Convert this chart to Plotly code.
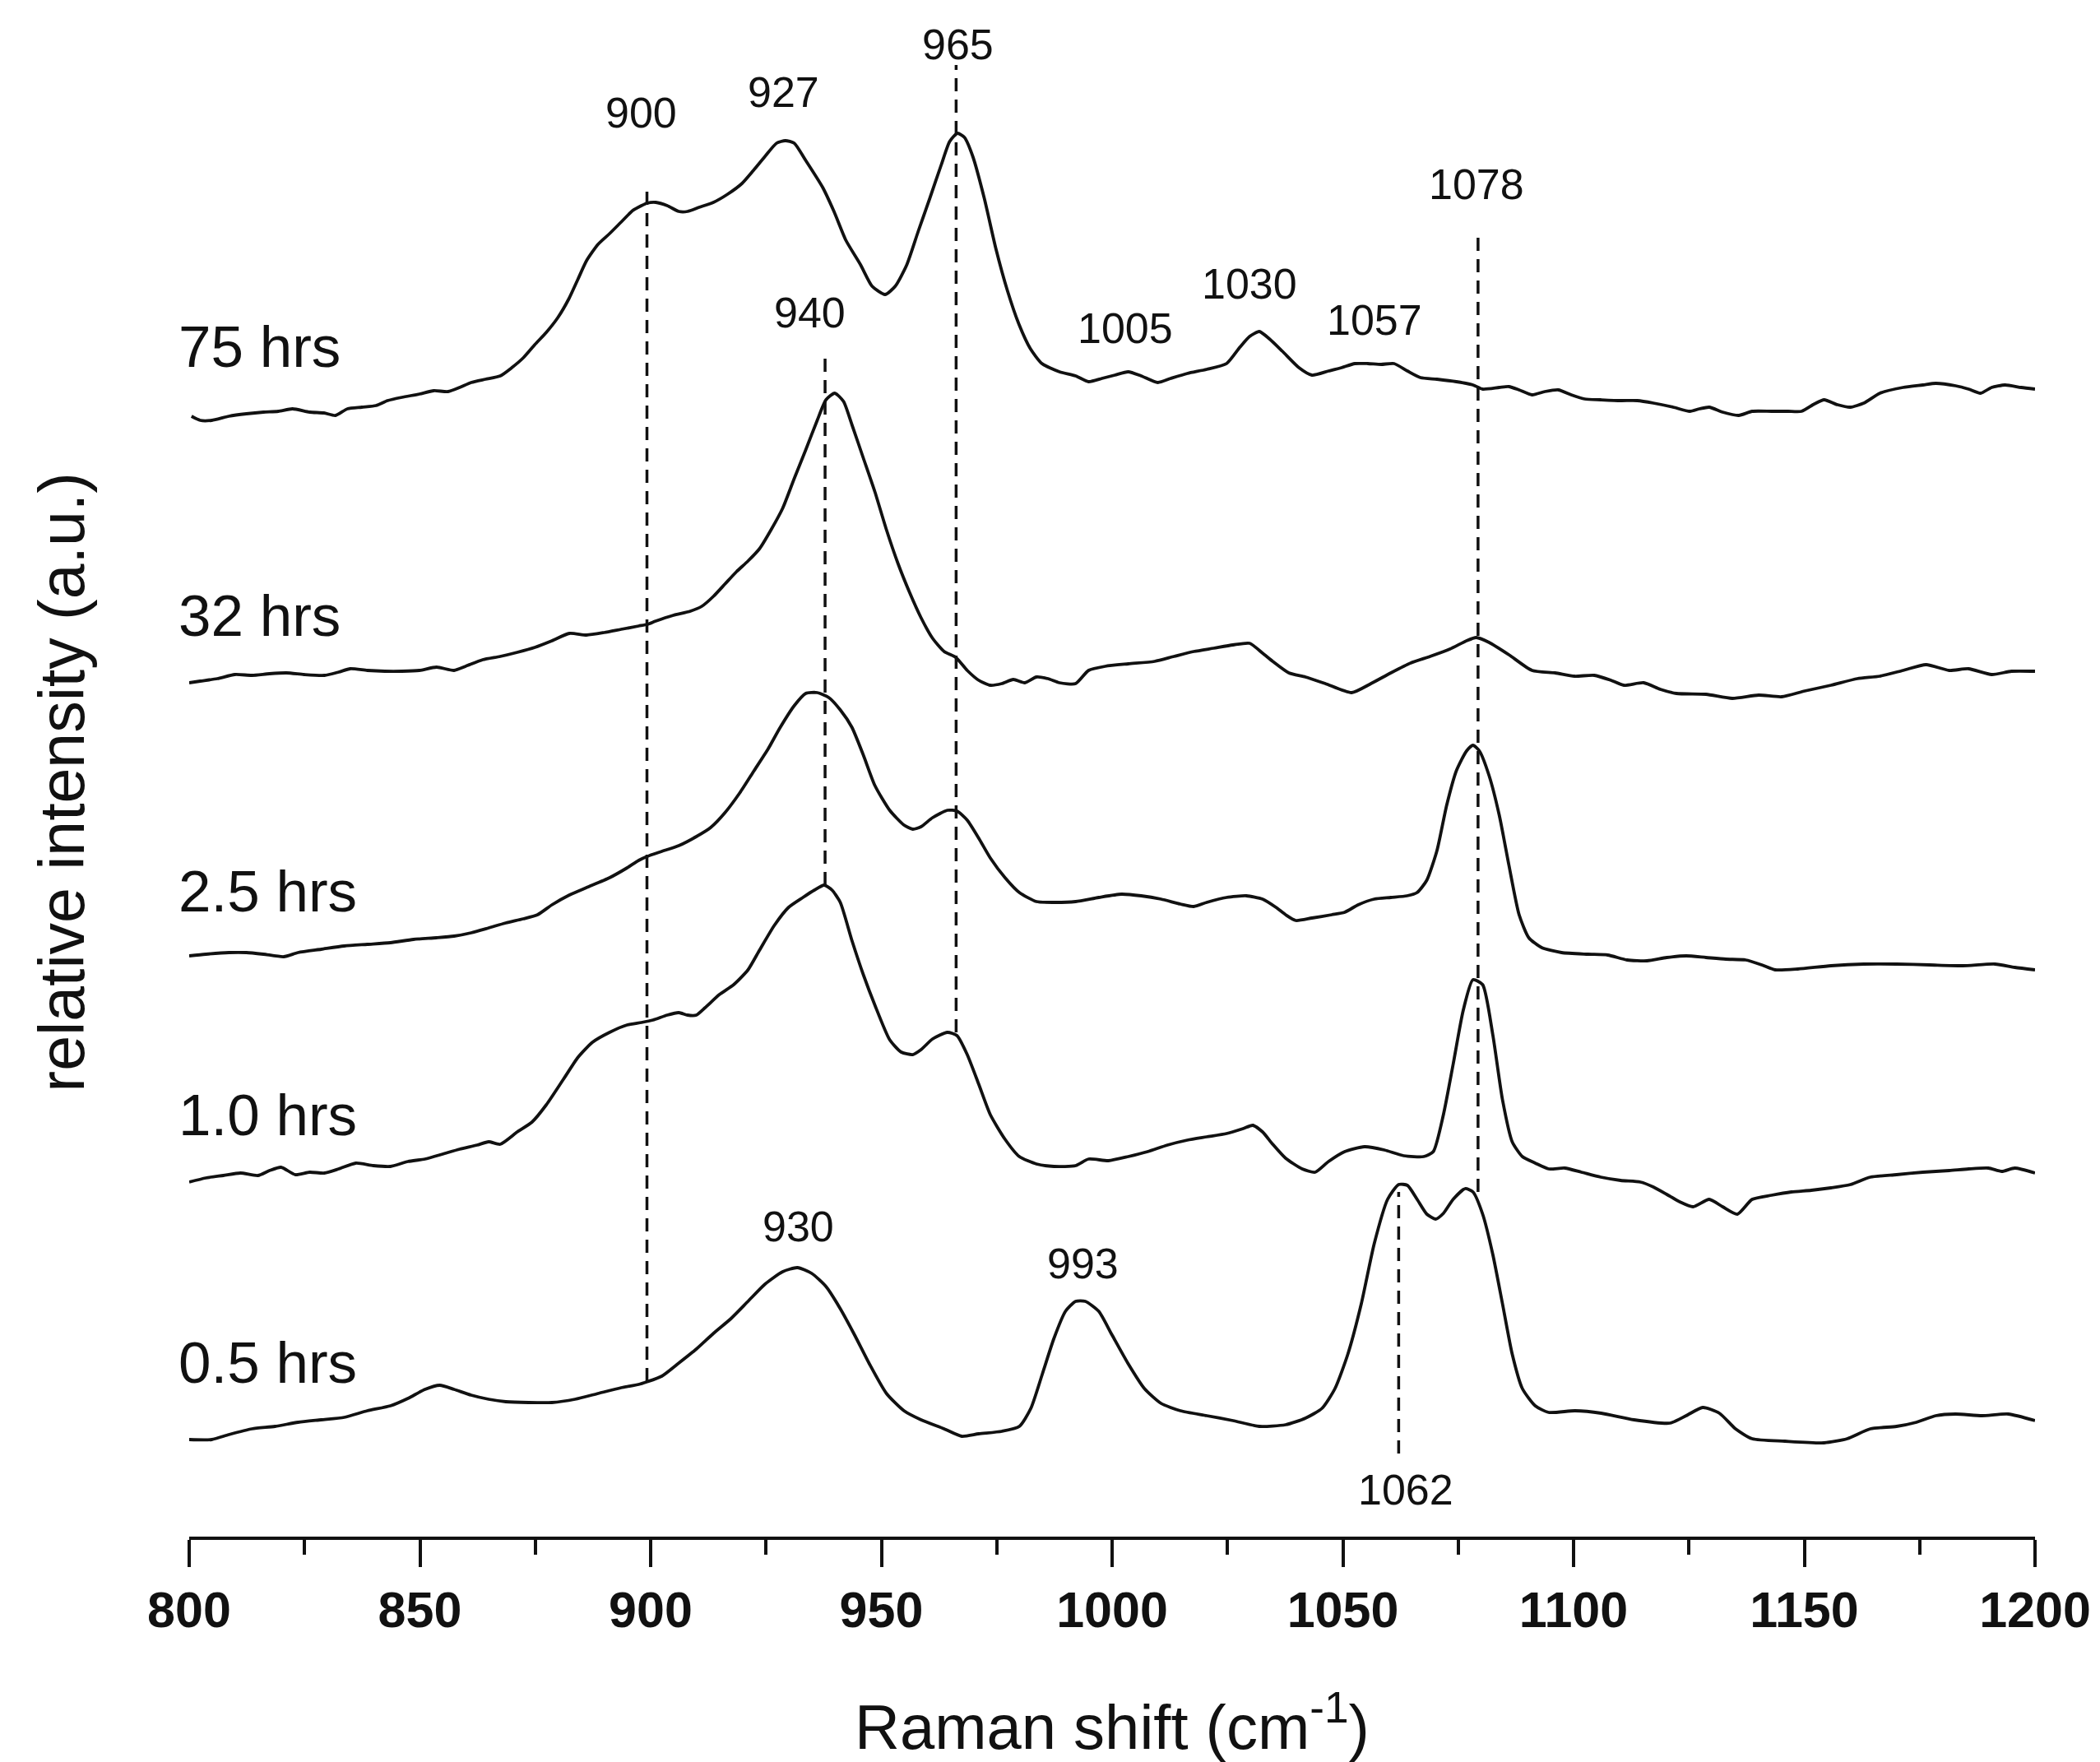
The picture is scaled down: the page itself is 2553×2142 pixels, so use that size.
"""Raman spectra of the five reaction times, stacked with offsets."""

import plotly.graph_objects as go

# ---- spectra (Raman shift in cm-1, stacked relative intensity in a.u.) ----
wn_75 = [800.5, 802.4, 804.9, 808.6, 812.4, 816.1, 819.3, 822.4, 826.1, 829.2,
         831.7, 834.3, 837.4, 840.5, 843.0, 846.1, 849.9, 853.0, 856.1, 858.6,
         861.1, 864.2, 867.4, 869.9, 872.4, 874.9, 877.4, 879.9, 882.3, 884.2,
         886.1, 888.6, 891.1, 893.6, 896.1, 898.0, 899.2, 901.1, 903.6, 906.1,
         908.0, 910.5, 913.6, 916.7, 919.8, 922.3, 924.8, 927.3, 929.2, 931.1,
         933.6, 937.3, 939.8, 942.3, 945.5, 948.0, 950.8, 953.0, 955.5, 958.0,
         960.5, 963.0, 964.8, 966.5, 968.0, 969.8, 972.3, 974.8, 977.3, 979.8,
         982.3, 984.8, 988.6, 992.1,
         994.9, 997.8, 1000.6, 1003.5, 1006.3, 1009.9, 1012.7, 1016.3, 1020.5, 1024.8,
         1027.7, 1029.8, 1031.9, 1034.1, 1036.9, 1040.5, 1043.3, 1046.9, 1049.7, 1052.6,
         1055.4, 1058.3, 1061.1, 1064.0, 1066.8, 1070.4, 1074.6, 1078.2, 1080.3, 1083.9,
         1086.0, 1088.2, 1091.0, 1093.8, 1096.7, 1099.5, 1102.4, 1105.9, 1110.2, 1113.8,
         1117.3, 1121.6, 1125.2, 1127.3, 1129.4, 1132.3, 1135.8, 1138.7, 1142.9, 1146.5,
         1149.4, 1152.2, 1154.3, 1157.2, 1160.0, 1162.9, 1166.4, 1171.4, 1175.7, 1178.5,
         1182.8, 1185.6, 1188.2, 1190.6, 1193.5, 1197.0, 1200.0]
int_75 = [136.2, 135.7, 135.7, 136.2, 136.5, 136.7, 136.8, 137.1, 136.7, 136.6,
          136.3, 137.1, 137.3, 137.5, 138.1, 138.5, 138.9, 139.3, 139.2, 139.7,
          140.3, 140.7, 141.1, 142.1, 143.3, 144.9, 146.4, 148.2, 150.5, 152.8,
          155.1, 157.1, 158.4, 159.8, 161.2, 161.8, 162.1, 162.2, 161.8, 161.1,
          161.1, 161.6, 162.2, 163.2, 164.5, 166.1, 167.8, 169.4, 169.7, 169.4,
          167.3, 164.0, 161.0, 157.6, 154.6, 152.0, 151.0, 152.0, 154.6, 158.7,
          162.7, 166.8, 169.6, 170.6, 170.1, 167.8, 162.7, 156.6, 151.5, 147.4,
          144.4, 142.6, 141.6, 141.1,
          140.4, 140.8, 141.2, 141.6, 141.1, 140.3, 140.8, 141.4, 141.9, 142.6,
          144.6, 145.9, 146.5, 145.6, 144.1, 142.1, 141.2, 141.7, 142.1, 142.6,
          142.6, 142.5, 142.6, 141.7, 140.9, 140.7, 140.4, 140.0, 139.5, 139.7,
          139.8, 139.4, 138.8, 139.2, 139.4, 138.8, 138.3, 138.2, 138.1, 138.1,
          137.8, 137.3, 136.8, 137.1, 137.3, 136.7, 136.3, 136.8, 136.8, 136.8,
          136.8, 137.7, 138.2, 137.6, 137.3, 137.8, 139.0, 139.7, 140.0, 140.2,
          139.9, 139.5, 139.0, 139.7, 140.0, 139.7, 139.5]

wn_32 = [800.0, 802.4, 806.1, 809.9, 813.6, 817.4, 821.1, 824.9, 829.3, 832.4,
         834.9, 838.6, 842.4, 846.1, 849.9, 853.6, 857.4, 859.9, 863.6, 867.4,
         871.1, 874.9, 878.6, 882.4, 886.1, 889.9, 893.6, 897.4, 899.3, 901.1,
         904.9, 908.6, 911.1, 913.6, 916.1, 918.6, 921.1, 923.6, 926.1, 928.6,
         931.1, 933.6, 936.1, 938.0, 939.9, 941.8, 943.6, 946.1, 948.6, 951.1,
         953.6, 956.1, 958.6, 961.1, 963.6, 966.1, 968.6, 971.1, 973.6, 976.1,
         978.6, 981.1, 983.6, 986.1, 988.6, 992.1,
         994.9, 998.5, 1003.5, 1009.2, 1013.4, 1017.7, 1022.0, 1026.2, 1029.8, 1032.6,
         1034.8, 1038.3, 1041.9, 1046.2, 1051.9, 1056.1, 1060.4, 1064.7, 1068.9, 1073.2,
         1076.8, 1078.9, 1081.7, 1086.0, 1091.0, 1096.0, 1100.2, 1104.5, 1108.1, 1110.9,
         1115.2, 1118.8, 1122.3, 1128.7, 1134.4, 1140.1, 1145.1, 1150.1, 1155.8, 1161.5,
         1166.4, 1171.4, 1176.4, 1181.4, 1185.6, 1190.6, 1194.9, 1200.0]
int_32 = [103.8, 104.0, 104.3, 104.8, 104.7, 104.9, 105.0, 104.8, 104.7, 105.1,
          105.5, 105.3, 105.2, 105.2, 105.3, 105.7, 105.3, 105.8, 106.6, 107.0,
          107.5, 108.1, 108.9, 109.8, 109.6, 109.9, 110.3, 110.7, 110.9, 111.3,
          112.0, 112.5, 113.1, 114.3, 115.8, 117.3, 118.6, 120.1, 122.4, 125.0,
          128.6, 132.1, 135.7, 138.2, 139.0, 138.0, 135.2, 131.1, 127.0, 122.4,
          118.3, 114.8, 111.7, 109.2, 107.6, 106.9, 105.3, 104.1, 103.5, 103.7,
          104.2, 103.8, 104.5, 104.3, 103.8, 103.7,
          105.3, 105.8, 106.1, 106.4, 107.0, 107.6, 108.0, 108.4, 108.6, 107.4,
          106.4, 105.0, 104.5, 103.7, 102.6, 103.7, 105.0, 106.2, 107.0, 107.9,
          108.9, 109.3, 108.7, 107.2, 105.3, 105.0, 104.6, 104.7, 104.1, 103.5,
          103.8, 103.0, 102.5, 102.4, 101.9, 102.3, 102.1, 102.8, 103.5, 104.3,
          104.6, 105.3, 106.0, 105.3, 105.5, 104.8, 105.2, 105.2]

wn_25 = [800.0, 803.6, 808.6, 812.4, 816.1, 820.5, 823.6, 828.6, 833.6, 838.6,
         843.6, 848.6, 853.6, 857.4, 861.1, 864.9, 868.6, 872.4, 875.5, 878.6,
         882.4, 886.1, 891.1, 894.9, 897.4, 899.3, 902.4, 906.1, 909.9, 913.0,
         916.1, 919.3, 922.4, 925.5, 928.0, 931.1, 933.6, 936.1, 938.6, 941.1,
         943.6, 946.1, 948.6, 951.8, 954.9, 956.8, 958.6, 961.1, 964.3, 966.4,
         968.6, 971.1, 973.6, 976.8, 979.9, 983.6, 987.4, 992.1, 997.1, 1002.0,
         1006.3, 1010.6, 1014.8, 1017.7, 1020.5, 1024.8, 1029.1, 1032.6, 1035.5, 1037.6,
         1039.8, 1043.3, 1047.6, 1050.4, 1053.3, 1056.8, 1060.4, 1063.9, 1066.1, 1068.2,
         1070.4, 1072.5, 1074.6, 1076.8, 1078.2, 1079.6, 1081.7, 1083.9, 1086.0, 1088.2,
         1090.3, 1093.1, 1097.4, 1103.1, 1107.4, 1111.6, 1115.9, 1120.2, 1124.4, 1128.7,
         1133.0, 1137.3, 1140.8, 1143.7, 1148.6, 1155.8, 1162.9, 1170.0, 1177.1, 1184.3,
         1191.3, 1195.6, 1200.0]
int_25 = [70.6, 70.8, 71.0, 71.0, 70.8, 70.5, 71.0, 71.4, 71.8, 72.0,
          72.2, 72.6, 72.8, 73.0, 73.4, 74.0, 74.6, 75.1, 75.6, 76.8,
          78.0, 78.9, 80.1, 81.3, 82.2, 82.7, 83.3, 84.0, 85.1, 86.2,
          88.0, 90.4, 93.1, 95.8, 98.3, 101.0, 102.5, 102.6, 102.0, 100.5,
          98.4, 95.0, 91.3, 88.3, 86.5, 86.0, 86.3, 87.4, 88.3, 88.2,
          87.1, 84.9, 82.5, 80.1, 78.3, 77.2, 77.1, 77.2, 77.7, 78.1,
          77.9, 77.5, 76.9, 76.6, 77.1, 77.7, 77.9, 77.5, 76.5, 75.6,
          74.9, 75.2, 75.6, 75.9, 76.8, 77.5, 77.7, 77.9, 78.3, 79.8,
          83.4, 88.9, 93.1, 95.5, 96.2, 95.5, 92.5, 87.7, 81.6, 75.6,
          72.8, 71.6, 71.0, 70.8, 70.7, 70.1, 70.0, 70.4, 70.6, 70.4,
          70.2, 70.1, 69.5, 68.9, 69.0, 69.4, 69.6, 69.6, 69.5, 69.4,
          69.6, 69.2, 68.9]

wn_10 = [800.0, 803.6, 807.4, 811.1, 814.9, 817.4, 819.9, 823.0, 826.1, 829.3,
         832.4, 836.1, 839.9, 843.6, 847.4, 851.1, 854.9, 858.6, 862.4, 864.9,
         867.4, 871.1, 874.3, 877.4, 881.1, 884.3, 887.4, 891.1, 894.9, 898.0,
         900.5, 903.6, 906.1, 908.0, 909.9, 911.8, 914.9, 918.0, 921.1, 923.6,
         926.8, 929.9, 933.0, 935.5, 937.6, 939.3, 941.1, 943.6, 946.1, 948.6,
         951.8, 954.3, 956.8, 958.6, 961.1, 964.3, 966.4, 968.6, 971.1, 973.6,
         976.8, 979.9, 983.6, 987.4, 992.1, 994.9, 999.2, 1003.5, 1007.7, 1012.0,
         1016.3, 1020.5, 1024.8, 1028.4, 1030.5, 1032.6, 1034.8, 1037.6, 1041.2, 1044.0,
         1046.9, 1050.4, 1054.7, 1059.0, 1063.2, 1067.5, 1069.6, 1071.8, 1073.9, 1076.1,
         1078.2, 1080.3, 1082.5, 1084.6, 1086.7, 1088.9, 1091.7, 1094.6, 1098.1, 1101.7,
         1105.9, 1110.2, 1114.5, 1117.3, 1120.2, 1123.0, 1125.9, 1129.4, 1132.3, 1135.5,
         1138.7, 1142.9, 1147.2, 1151.5, 1155.8, 1160.0, 1164.3, 1170.0, 1175.7, 1181.4,
         1185.6, 1189.9, 1192.8, 1195.6, 1200.0]
int_10 = [43.1, 43.6, 43.9, 44.2, 43.9, 44.5, 44.9, 44.0, 44.3, 44.2,
          44.7, 45.4, 45.1, 45.0, 45.6, 45.9, 46.5, 47.1, 47.6, 48.0,
          47.7, 49.2, 50.4, 52.5, 55.6, 58.3, 60.1, 61.3, 62.2, 62.5,
          62.8, 63.4, 63.7, 63.4, 63.4, 64.3, 65.9, 67.1, 68.9, 71.3,
          74.3, 76.5, 77.7, 78.6, 79.2, 78.6, 77.1, 72.5, 68.3, 64.6,
          60.4, 58.9, 58.6, 59.2, 60.5, 61.3, 60.9, 58.6, 55.0, 51.3,
          48.3, 46.2, 45.3, 45.0, 45.1, 45.9, 45.7, 46.2, 46.8, 47.6,
          48.2, 48.6, 49.0, 49.6, 50.0, 49.2, 47.7, 46.0, 44.7, 44.3,
          45.6, 46.8, 47.4, 47.0, 46.3, 46.2, 46.8, 51.3, 57.4, 64.0,
          67.7, 67.1, 61.0, 53.1, 48.0, 46.2, 45.4, 44.7, 44.8, 44.3,
          43.7, 43.3, 43.1, 42.5, 41.6, 40.7, 40.1, 41.0, 40.1, 39.2,
          41.0, 41.5, 41.9, 42.1, 42.4, 42.8, 43.7, 44.0, 44.3, 44.5,
          44.7, 44.8, 44.4, 44.8, 44.2]

wn_05 = [800.0, 804.9, 808.6, 813.6, 818.6, 823.6, 828.6, 833.6, 838.6, 843.6,
         847.4, 851.1, 854.3, 857.4, 861.1, 864.9, 868.6, 873.6, 878.6, 883.6,
         888.6, 893.6, 897.4, 899.1, 902.4, 906.1, 909.9, 913.6, 917.4, 921.1,
         924.8, 928.6, 931.8, 934.9, 938.0, 941.1, 944.3, 947.4, 951.1, 954.9,
         958.6, 963.6, 967.4, 971.1, 976.1, 979.9, 982.4, 984.9, 987.4, 989.9,
         992.1, 994.2, 997.1, 999.9, 1003.5, 1007.0, 1010.6, 1014.8, 1020.5, 1026.2,
         1031.9, 1037.6, 1041.9, 1045.5, 1048.3, 1051.1, 1054.0, 1056.8, 1059.7, 1062.1,
         1064.0, 1066.1, 1068.2, 1070.1, 1071.8, 1073.9, 1076.5, 1078.2, 1080.3, 1082.5,
         1084.6, 1086.7, 1088.9, 1091.7, 1094.6, 1100.3, 1106.0, 1113.1, 1120.9, 1124.4,
         1128.0, 1131.6, 1135.1, 1138.7, 1145.8, 1154.3, 1159.3, 1164.3, 1170.0, 1174.3,
         1178.5, 1182.8, 1188.5, 1194.2, 1200.0]
int_05 = [11.8, 11.8, 12.4, 13.1, 13.4, 13.9, 14.2, 14.5, 15.3, 15.9,
          16.8, 17.9, 18.4, 17.9, 17.2, 16.7, 16.4, 16.3, 16.3, 16.7,
          17.4, 18.1, 18.5, 18.8, 19.5, 21.1, 22.8, 24.7, 26.5, 28.6,
          30.7, 32.2, 32.7, 32.0, 30.4, 27.7, 24.4, 21.0, 17.4, 15.3,
          14.2, 13.1, 12.2, 12.5, 12.8, 13.4, 15.6, 19.8, 24.1, 27.4,
          28.6, 28.6, 27.4, 24.6, 21.0, 18.0, 16.2, 15.3, 14.7, 14.1,
          13.4, 13.6, 14.4, 15.6, 18.0, 22.2, 28.3, 35.6, 41.0, 42.8,
          42.7, 41.0, 39.2, 38.6, 39.3, 41.0, 42.3, 41.9, 39.2, 34.3,
          28.3, 22.2, 18.0, 15.9, 15.1, 15.3, 15.0, 14.2, 13.8, 14.7,
          15.7, 15.0, 13.1, 11.9, 11.6, 11.4, 11.9, 13.1, 13.4, 13.9,
          14.7, 14.9, 14.7, 14.9, 14.1]

# curve labels
spectrum_names = ["75 hrs", "32 hrs", "2.5 hrs", "1.0 hrs", "0.5 hrs"]
spectrum_label_y = [144.7, 112.0, 78.5, 51.3, 21.2]

# peak labels
peak_text = ["900", "927", "965", "940", "1005", "1030", "1057", "1078", "930", "993", "1062"]
peak_x = [897.9, 928.8, 966.6, 934.5, 1002.8, 1029.8, 1056.8, 1078.9, 932.0, 993.7, 1063.6]
peak_y = [173.1, 175.6, 181.4, 148.8, 146.9, 152.3, 147.9, 164.4, 37.7, 33.2, 5.7]

# dashed guide lines: position, top, bottom
guide_x = [899.2, 937.8, 966.2, 1079.3, 1062.1]
guide_top = [163.7, 144.1, 178.9, 158.7, 41.9]
guide_bottom = [18.9, 79.2, 61.3, 41.9, 10.1]

FONT = "Liberation Sans, Arial, sans-serif"
INK = "#111111"

fig = go.Figure()

spectra = [(wn_75, int_75), (wn_32, int_32), (wn_25, int_25), (wn_10, int_10), (wn_05, int_05)]
for (xs, ys), name in zip(spectra, spectrum_names):
    fig.add_trace(
        go.Scatter(
            x=xs,
            y=ys,
            mode="lines",
            name=name,
            line=dict(color=INK, width=3.8, shape="spline", smoothing=0.6),
        )
    )

for gx, gt, gb in zip(guide_x, guide_top, guide_bottom):
    fig.add_shape(
        type="line",
        x0=gx, x1=gx, y0=gb, y1=gt,
        xref="x", yref="y",
        line=dict(color=INK, width=3.5, dash="16px,10px"),
    )

for txt, px_, py_ in zip(peak_text, peak_x, peak_y):
    fig.add_annotation(
        x=px_, y=py_, text=txt, showarrow=False,
        xanchor="center", yanchor="middle",
        font=dict(family=FONT, size=52, color=INK),
    )

# curve names sit just left of the axis start, so place them in paper units
for name, ly in zip(spectrum_names, spectrum_label_y):
    fig.add_annotation(
        xref="paper", yref="y",
        x=-0.0066, y=ly, text=name, showarrow=False,
        xanchor="left", yanchor="middle",
        font=dict(family=FONT, size=71, color=INK),
    )

# axis titles
fig.add_annotation(
    xref="paper", yref="paper", x=0.5, y=-0.1215,
    text="Raman shift (cm<sup>-1</sup>)", showarrow=False,
    xanchor="center", yanchor="middle",
    font=dict(family=FONT, size=76, color=INK),
)
fig.add_annotation(
    xref="paper", yref="paper", x=-0.0689, y=0.493,
    text="relative intensity (a.u.)", showarrow=False, textangle=-90,
    xanchor="center", yanchor="middle",
    font=dict(family=FONT, size=77, color=INK),
)

fig.update_xaxes(
    range=[800, 1200],
    tickmode="linear", tick0=800, dtick=50,
    ticks="outside", ticklen=33, tickwidth=4, tickcolor=INK,
    showline=True, linewidth=4, linecolor=INK,
    showgrid=False, zeroline=False,
    tickfont=dict(family=FONT, size=61, color=INK, weight="bold"),
    minor=dict(ticks="outside", ticklen=18, tickwidth=4, tickcolor=INK,
               tick0=800, dtick=25, showgrid=False),
)
fig.update_yaxes(
    range=[0, 186],
    showline=False, showticklabels=False, ticks="",
    showgrid=False, zeroline=False,
)
fig.update_layout(
    width=2553, height=2142,
    margin=dict(l=222, r=87, t=0, b=282, autoexpand=False),
    plot_bgcolor="white", paper_bgcolor="white",
    showlegend=False,
)

fig.write_html("out.html")
